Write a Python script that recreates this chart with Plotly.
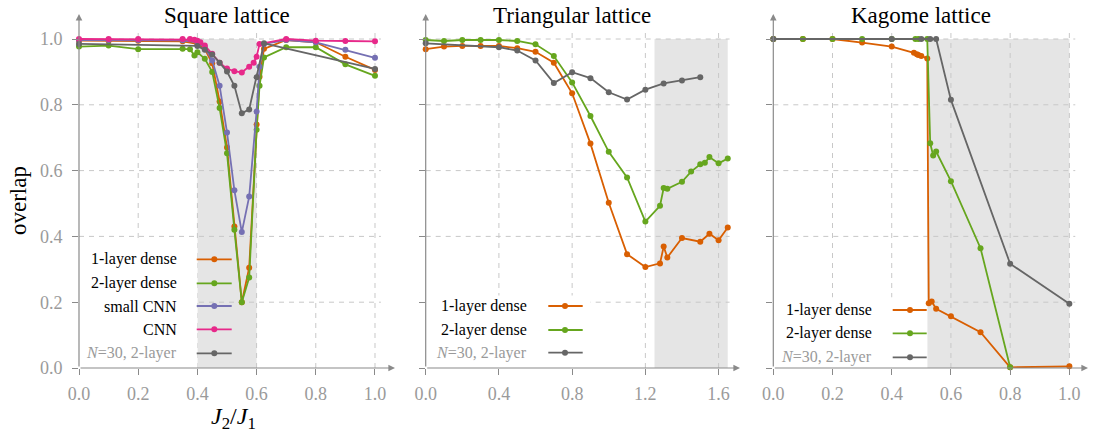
import plotly.graph_objects as go

# ---------------- data ----------------
# Square lattice
sq_x_1l = [0, 0.1, 0.2, 0.35, 0.4, 0.425, 0.45, 0.475, 0.5, 0.525, 0.55, 0.575, 0.6, 0.61, 0.625, 0.7, 0.8, 0.9, 1.0]
sq_y_1l = [0.995, 0.995, 0.995, 0.993, 0.985, 0.97, 0.926, 0.81, 0.67, 0.43, 0.2, 0.305, 0.74, 0.885, 0.97, 0.997, 0.99, 0.946, 0.906]
sq_x_2l = [0, 0.1, 0.2, 0.35, 0.375, 0.39, 0.4, 0.425, 0.45, 0.475, 0.5, 0.525, 0.55, 0.575, 0.6, 0.61, 0.625, 0.7, 0.8, 0.9, 1.0]
sq_y_2l = [0.977, 0.98, 0.969, 0.97, 0.969, 0.95, 0.96, 0.94, 0.9, 0.79, 0.653, 0.42, 0.2, 0.275, 0.724, 0.858, 0.944, 0.975, 0.975, 0.923, 0.888]
sq_x_scnn = [0, 0.1, 0.2, 0.35, 0.4, 0.425, 0.45, 0.475, 0.5, 0.525, 0.55, 0.575, 0.6, 0.61, 0.625, 0.7, 0.8, 0.9, 1.0]
sq_y_scnn = [0.997, 0.997, 0.997, 0.996, 0.99, 0.975, 0.935, 0.858, 0.716, 0.54, 0.413, 0.521, 0.78, 0.916, 0.985, 0.997, 0.99, 0.967, 0.943]
sq_x_cnn = [0, 0.1, 0.2, 0.35, 0.375, 0.39, 0.4, 0.41, 0.425, 0.45, 0.475, 0.5, 0.525, 0.55, 0.575, 0.59, 0.6, 0.61, 0.7, 0.8, 0.9, 1.0]
sq_y_cnn = [1.0, 1.0, 1.0, 1.0, 1.0, 0.998, 0.995, 0.99, 0.98, 0.955, 0.928, 0.91, 0.902, 0.898, 0.916, 0.928, 0.946, 0.985, 1.0, 0.995, 0.994, 0.993]
sq_x_n30 = [0, 0.4, 0.425, 0.45, 0.475, 0.5, 0.525, 0.55, 0.575, 0.6, 0.625, 1.0]
sq_y_n30 = [0.985, 0.979, 0.967, 0.953, 0.928, 0.901, 0.858, 0.774, 0.786, 0.884, 0.987, 0.909]

# Triangular lattice
tr_x_1l = [0, 0.1, 0.2, 0.3, 0.4, 0.5, 0.6, 0.7, 0.8, 0.9, 1.0, 1.1, 1.2, 1.28, 1.3, 1.32, 1.4, 1.5, 1.55, 1.6, 1.65]
tr_y_1l = [0.969, 0.977, 0.979, 0.979, 0.979, 0.972, 0.961, 0.928, 0.835, 0.682, 0.502, 0.346, 0.307, 0.318, 0.369, 0.336, 0.395, 0.384, 0.408, 0.388, 0.427]
tr_x_2l = [0, 0.1, 0.2, 0.3, 0.4, 0.5, 0.6, 0.7, 0.8, 0.9, 1.0, 1.1, 1.2, 1.28, 1.3, 1.32, 1.4, 1.45, 1.5, 1.525, 1.55, 1.6, 1.65]
tr_y_2l = [0.997, 0.994, 0.997, 0.997, 0.997, 0.994, 0.984, 0.948, 0.868, 0.766, 0.657, 0.579, 0.445, 0.493, 0.547, 0.545, 0.566, 0.597, 0.619, 0.624, 0.641, 0.622, 0.637]
tr_x_n30 = [0, 0.4, 0.5, 0.6, 0.7, 0.8, 0.9, 1.0, 1.1, 1.2, 1.3, 1.4, 1.5]
tr_y_n30 = [0.987, 0.975, 0.965, 0.935, 0.866, 0.899, 0.881, 0.838, 0.816, 0.846, 0.865, 0.874, 0.884]

# Kagome lattice
kg_x_1l = [0, 0.1, 0.2, 0.3, 0.4, 0.475, 0.485, 0.49, 0.5, 0.52, 0.525, 0.535, 0.55, 0.6, 0.7, 0.8, 1.0]
kg_y_1l = [1.0, 1.0, 1.0, 0.989, 0.977, 0.958, 0.954, 0.951, 0.948, 0.941, 0.197, 0.202, 0.18, 0.157, 0.109, 0.002, 0.005]
kg_x_2l = [0, 0.1, 0.2, 0.3, 0.4, 0.48, 0.49, 0.52, 0.53, 0.54, 0.55, 0.6, 0.7, 0.8]
kg_y_2l = [1.0, 1.0, 1.0, 1.0, 1.0, 1.0, 1.0, 1.0, 0.683, 0.646, 0.658, 0.568, 0.364, 0.002]
kg_x_n30 = [0, 0.4, 0.5, 0.53, 0.55, 0.6, 0.8, 1.0]
kg_y_n30 = [1.0, 1.0, 1.0, 1.0, 1.0, 0.815, 0.317, 0.195]

titles = ["Square lattice", "Triangular lattice", "Kagome lattice"]
shade_ranges = [(0.4, 0.6), (1.25, 1.65), (0.52, 1.0)]
xtick_vals = [[0, 0.2, 0.4, 0.6, 0.8, 1.0], [0, 0.4, 0.8, 1.2, 1.6], [0, 0.2, 0.4, 0.6, 0.8, 1.0]]
xtick_text = [["0.0", "0.2", "0.4", "0.6", "0.8", "1.0"], ["0.0", "0.4", "0.8", "1.2", "1.6"], ["0.0", "0.2", "0.4", "0.6", "0.8", "1.0"]]
ytick_vals = [0, 0.2, 0.4, 0.6, 0.8, 1.0]
ytick_text = ["0.0", "0.2", "0.4", "0.6", "0.8", "1.0"]

lbl_1l = "1-layer dense"
lbl_2l = "2-layer dense"
lbl_scnn = "small CNN"
lbl_cnn = "CNN"
lbl_n30 = "<i>N</i>=30, 2-layer"

C_OR = "#d95f02"
C_GR = "#66a61e"
C_PU = "#7570b3"
C_PK = "#e7298a"
C_GY = "#666666"

panel_series = [
    [(sq_x_1l, sq_y_1l, C_OR, lbl_1l), (sq_x_2l, sq_y_2l, C_GR, lbl_2l), (sq_x_scnn, sq_y_scnn, C_PU, lbl_scnn),
     (sq_x_cnn, sq_y_cnn, C_PK, lbl_cnn), (sq_x_n30, sq_y_n30, C_GY, lbl_n30)],
    [(tr_x_1l, tr_y_1l, C_OR, lbl_1l), (tr_x_2l, tr_y_2l, C_GR, lbl_2l), (tr_x_n30, tr_y_n30, C_GY, lbl_n30)],
    [(kg_x_1l, kg_y_1l, C_OR, lbl_1l), (kg_x_2l, kg_y_2l, C_GR, lbl_2l), (kg_x_n30, kg_y_n30, C_GY, lbl_n30)],
]

# ---------------- layout geometry ----------------
W, H = 1095, 434
def px(X):
    return X / W
def py(Y):
    return (H - Y) / H

SERIF = "Liberation Serif, Times New Roman, Times, serif"
AX_COL = "#8a8a8a"
TICK_COL = "#9a9a9a"
GRID_COL = "#c8c8c8"
SHADE_COL = "#e5e5e5"

panel_px = [(79, 395), (425.7, 740), (773.3, 1088)]
x_max = [1.0676, 1.717, 1.063]
grid_xend = [1.02, 1.66, 1.02]
y_max = 1.076
y_dom = [py(368), py(14)]
leg_box = [(0.0, 0.4, 0.39), (0.0, 0.9, 0.22), (0.0, 0.52, 0.215)]
leg_geom = [
    (179, 196.7, 231.7, 214.3, [259.3, 283.3, 306, 329.3, 353.3]),
    (529.3, 548.3, 582.7, 565, [306, 330, 352.7]),
    (874.3, 892.7, 926.7, 910, [310, 333.3, 357.3]),
]

fig = go.Figure()
shapes = []
annotations = []

for i in range(3):
    sfx = "" if i == 0 else str(i + 1)
    xa, ya = "x" + sfx, "y" + sfx
    s0, s1 = shade_ranges[i]
    shapes.append(dict(type="rect", xref=xa, yref=ya, x0=s0, x1=s1, y0=0, y1=1.0,
                       fillcolor=SHADE_COL, line=dict(width=0), layer="below"))
    for v in xtick_vals[i][1:]:
        shapes.append(dict(type="line", xref=xa, yref=ya, x0=v, x1=v, y0=0, y1=1.02,
                           line=dict(color=GRID_COL, width=1, dash="5px,5px"), layer="below"))
    for v in ytick_vals[1:]:
        shapes.append(dict(type="line", xref=xa, yref=ya, x0=0, x1=grid_xend[i], y0=v, y1=v,
                           line=dict(color=GRID_COL, width=1, dash="5px,5px"), layer="below"))
    bx0, bx1, by1 = leg_box[i]
    shapes.append(dict(type="rect", xref=xa, yref=ya, x0=bx0, x1=bx1, y0=0.0, y1=by1,
                       fillcolor="white", line=dict(width=0), layer="below"))

    for (xs, ys, col, name) in panel_series[i]:
        fig.add_trace(go.Scatter(x=xs, y=ys, mode="lines+markers", xaxis=xa, yaxis=ya,
                                 line=dict(color=col, width=1.8), marker=dict(color=col, size=6),
                                 cliponaxis=False, showlegend=False, name=name))

    d0, d1 = panel_px[i]
    fig.update_layout(**{
        ("xaxis" + sfx): dict(domain=[px(d0), px(d1)], range=[0, x_max[i]], anchor=ya,
                              tickvals=xtick_vals[i], ticktext=xtick_text[i], ticks="outside",
                              ticklen=6, tickwidth=1.2, tickcolor=AX_COL, showgrid=False,
                              zeroline=False, showline=False, automargin=False,
                              ticklabelstandoff=3,
                              tickfont=dict(family=SERIF, size=18, color=TICK_COL)),
        ("yaxis" + sfx): dict(domain=y_dom, range=[0, y_max], anchor=xa,
                              tickvals=ytick_vals, ticktext=ytick_text, ticks="outside",
                              ticklen=6, tickwidth=1.2, tickcolor=AX_COL, showgrid=False,
                              zeroline=False, showline=False, showticklabels=(i == 0),
                              ticklabelstandoff=6, automargin=False,
                              tickfont=dict(family=SERIF, size=18, color=TICK_COL)),
    })

    annotations.append(dict(xref=xa, yref=ya, axref=xa, ayref=ya, x=x_max[i], y=0, ax=0, ay=0,
                            text="", showarrow=True, arrowhead=2, arrowsize=1.1, arrowwidth=1.2,
                            arrowcolor=AX_COL))
    annotations.append(dict(xref=xa, yref=ya, axref=xa, ayref=ya, x=0, y=y_max, ax=0, ay=0,
                            text="", showarrow=True, arrowhead=2, arrowsize=1.1, arrowwidth=1.2,
                            arrowcolor=AX_COL))
    annotations.append(dict(xref=xa, yref="paper", x=xtick_vals[i][-1] / 2, y=py(16),
                            xanchor="center", yanchor="middle", showarrow=False, text=titles[i],
                            font=dict(family=SERIF, size=23, color="black")))

    tx, lx0, lx1, mx, rows = leg_geom[i]
    for (xs, ys, col, name), Y in zip(panel_series[i], rows):
        tcol = TICK_COL if "N</i>" in name else "black"
        annotations.append(dict(xref="paper", yref="paper", x=px(tx), y=py(Y), xanchor="right",
                                yanchor="middle", showarrow=False, text=name,
                                font=dict(family=SERIF, size=16, color=tcol)))
        shapes.append(dict(type="line", xref="paper", yref="paper", x0=px(lx0), x1=px(lx1),
                           y0=py(Y), y1=py(Y), line=dict(color=col, width=1.8)))
        shapes.append(dict(type="circle", xref="paper", yref="paper", xsizemode="pixel",
                           ysizemode="pixel", xanchor=px(mx), yanchor=py(Y), x0=-3, x1=3, y0=-3, y1=3,
                           fillcolor=col, line=dict(color=col, width=0)))

annotations.append(dict(xref="paper", yref="paper", x=px(18), y=py(201), xanchor="center",
                        yanchor="middle", textangle=-90, showarrow=False, text="overlap",
                        font=dict(family=SERIF, size=23, color="black")))
annotations.append(dict(xref="paper", yref="paper", x=px(233), y=py(418), xanchor="center",
                        yanchor="middle", showarrow=False,
                        text="<i>J</i><sub>2</sub>/<i>J</i><sub>1</sub>",
                        font=dict(family=SERIF, size=24, color="black")))

fig.update_layout(width=W, height=H, margin=dict(l=0, r=0, t=0, b=0, autoexpand=False),
                  paper_bgcolor="white", plot_bgcolor="white",
                  shapes=shapes, annotations=annotations, showlegend=False)

fig.write_html("out.html", config={"displayModeBar": False},
               post_script="document.body.style.margin='0px';document.body.style.overflow='hidden';")
